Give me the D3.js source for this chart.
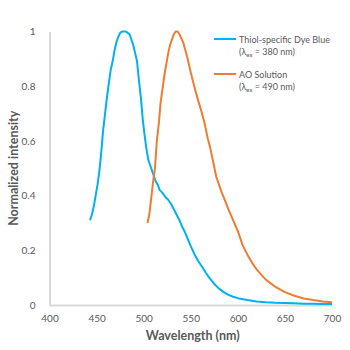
<!DOCTYPE html>
<html>
<head>
<meta charset="utf-8">
<script src="https://cdn.jsdelivr.net/npm/d3@7"></script>
<style>
  body { margin: 0; background: #fff; }
  text { font-family: Lato, "Open Sans", sans-serif; }
</style>
</head>
<body>
<div id="chart"></div>
<script>
// spectra (wavelength nm, normalized intensity)
var blueWave = [443,445,447,449,451,453,455,457,459,461,463,465,467,469,471,473,475,477,479,481,483,485,487,489,491,493,495,497,499,501,503,505,507,509,511,513,515,517,520,523,526,529,532,535,538,541,544,547,550,554,558,562,566,570,575,580,585,590,595,600,610,620,630,640,650,660,670,680,690,700];
var blueVal  = [0.31,0.33,0.36,0.40,0.44,0.49,0.56,0.64,0.70,0.76,0.81,0.86,0.89,0.93,0.96,0.98,0.995,1.0,1.0,1.0,0.995,0.99,0.97,0.95,0.92,0.89,0.82,0.76,0.68,0.62,0.57,0.53,0.51,0.49,0.47,0.45,0.44,0.42,0.41,0.395,0.385,0.37,0.35,0.33,0.31,0.285,0.265,0.24,0.215,0.185,0.16,0.14,0.118,0.098,0.077,0.06,0.047,0.037,0.03,0.025,0.018,0.013,0.01,0.008,0.007,0.006,0.005,0.005,0.004,0.004];

var orangeWave = [504,506,508,510,512,514,516,518,520,522,524,526,528,530,532,534,536,538,540,542,544,546,548,550,553,556,559,562,565,568,571,574,577,580,583,586,590,595,600,605,610,615,620,625,630,640,650,660,670,680,690,700];
var orangeVal  = [0.30,0.33,0.39,0.45,0.50,0.60,0.66,0.74,0.79,0.84,0.88,0.92,0.95,0.97,0.99,1.0,1.0,0.99,0.975,0.96,0.935,0.91,0.88,0.85,0.81,0.77,0.735,0.70,0.66,0.61,0.57,0.52,0.47,0.44,0.41,0.385,0.35,0.31,0.27,0.22,0.185,0.155,0.13,0.11,0.092,0.066,0.047,0.034,0.024,0.018,0.013,0.01];

var xTicks = [400,450,500,550,600,650,700];
var yTicks = [0,0.2,0.4,0.6,0.8,1];

var seriesNames = ["Thiol-specific Dye Blue", "AO Solution"];
var seriesExc = ["380", "490"];
var seriesColors = ["#00b0f0", "#ed7d31"];

var margin = {top: 31.5, right: 18, bottom: 45, left: 49.5},
    width = 350 - margin.left - margin.right,
    height = 350 - margin.top - margin.bottom;

var svg = d3.select("#chart")
  .append("svg")
    .attr("width", 350)
    .attr("height", 350)
  .append("g")
    .attr("transform", "translate(" + margin.left + "," + margin.top + ")");

var x = d3.scaleLinear().domain([400, 700]).range([0, width]);
var y = d3.scaleLinear().domain([0, 1]).range([height, 0]);

// axes: only the lines, no tick marks
var xAxis = svg.append("g")
  .attr("transform", "translate(0," + height + ")")
  .call(d3.axisBottom(x).tickValues(xTicks).tickSize(0).tickPadding(10));
var yAxis = svg.append("g")
  .call(d3.axisLeft(y).tickValues(yTicks).tickSize(0).tickPadding(14)
    .tickFormat(function(d) { return d === 0 || d === 1 ? d : d.toFixed(1); }));

svg.selectAll(".domain").attr("stroke", "#d9d9d9").attr("stroke-width", 2);
svg.selectAll(".tick text")
  .attr("fill", "#595959")
  .style("font-size", "10px")
  .style("font-family", "Lato, sans-serif");

// curves
var line = d3.line()
  .x(function(d) { return x(d[0]); })
  .y(function(d) { return y(d[1]); });

var series = [
  d3.zip(blueWave, blueVal),
  d3.zip(orangeWave, orangeVal)
];

series.forEach(function(s, i) {
  svg.append("path")
    .datum(s)
    .attr("fill", "none")
    .attr("stroke", seriesColors[i])
    .attr("stroke-width", 2)
    .attr("stroke-linejoin", "round")
    .attr("d", line);
});

// axis titles
svg.append("text")
  .attr("x", width / 2 + 2)
  .attr("y", height + 35)
  .attr("text-anchor", "middle")
  .attr("fill", "#595959")
  .style("font-size", "12.5px")
  .style("font-weight", "bold")
  .text("Wavelength (nm)");

svg.append("text")
  .attr("transform", "translate(" + (-32) + "," + (height / 2) + ")rotate(-90)")
  .attr("text-anchor", "middle")
  .attr("fill", "#595959")
  .style("font-size", "12.5px")
  .style("font-weight", "bold")
  .text("Normalized intensity");

// legend
var legend = svg.append("g")
  .attr("transform", "translate(" + (214 - margin.left) + "," + (39 - margin.top) + ")");

seriesNames.forEach(function(name, i) {
  var g = legend.append("g").attr("transform", "translate(0," + (i * 35) + ")");
  g.append("line")
    .attr("x1", 0).attr("x2", 22)
    .attr("y1", 0).attr("y2", 0)
    .attr("stroke", seriesColors[i])
    .attr("stroke-width", 2);
  g.append("text")
    .attr("x", 25).attr("y", 3.5)
    .attr("fill", "#595959")
    .style("font-size", "9px")
    .text(name);
  var t = g.append("text")
    .attr("x", 25).attr("y", 16)
    .attr("fill", "#595959")
    .style("font-size", "9px");
  t.append("tspan").text("(λ");
  t.append("tspan").attr("dy", 2).style("font-size", "6px").text("ex");
  t.append("tspan").attr("dy", -2).text(" = " + seriesExc[i] + " nm)");
});
</script>
</body>
</html>
